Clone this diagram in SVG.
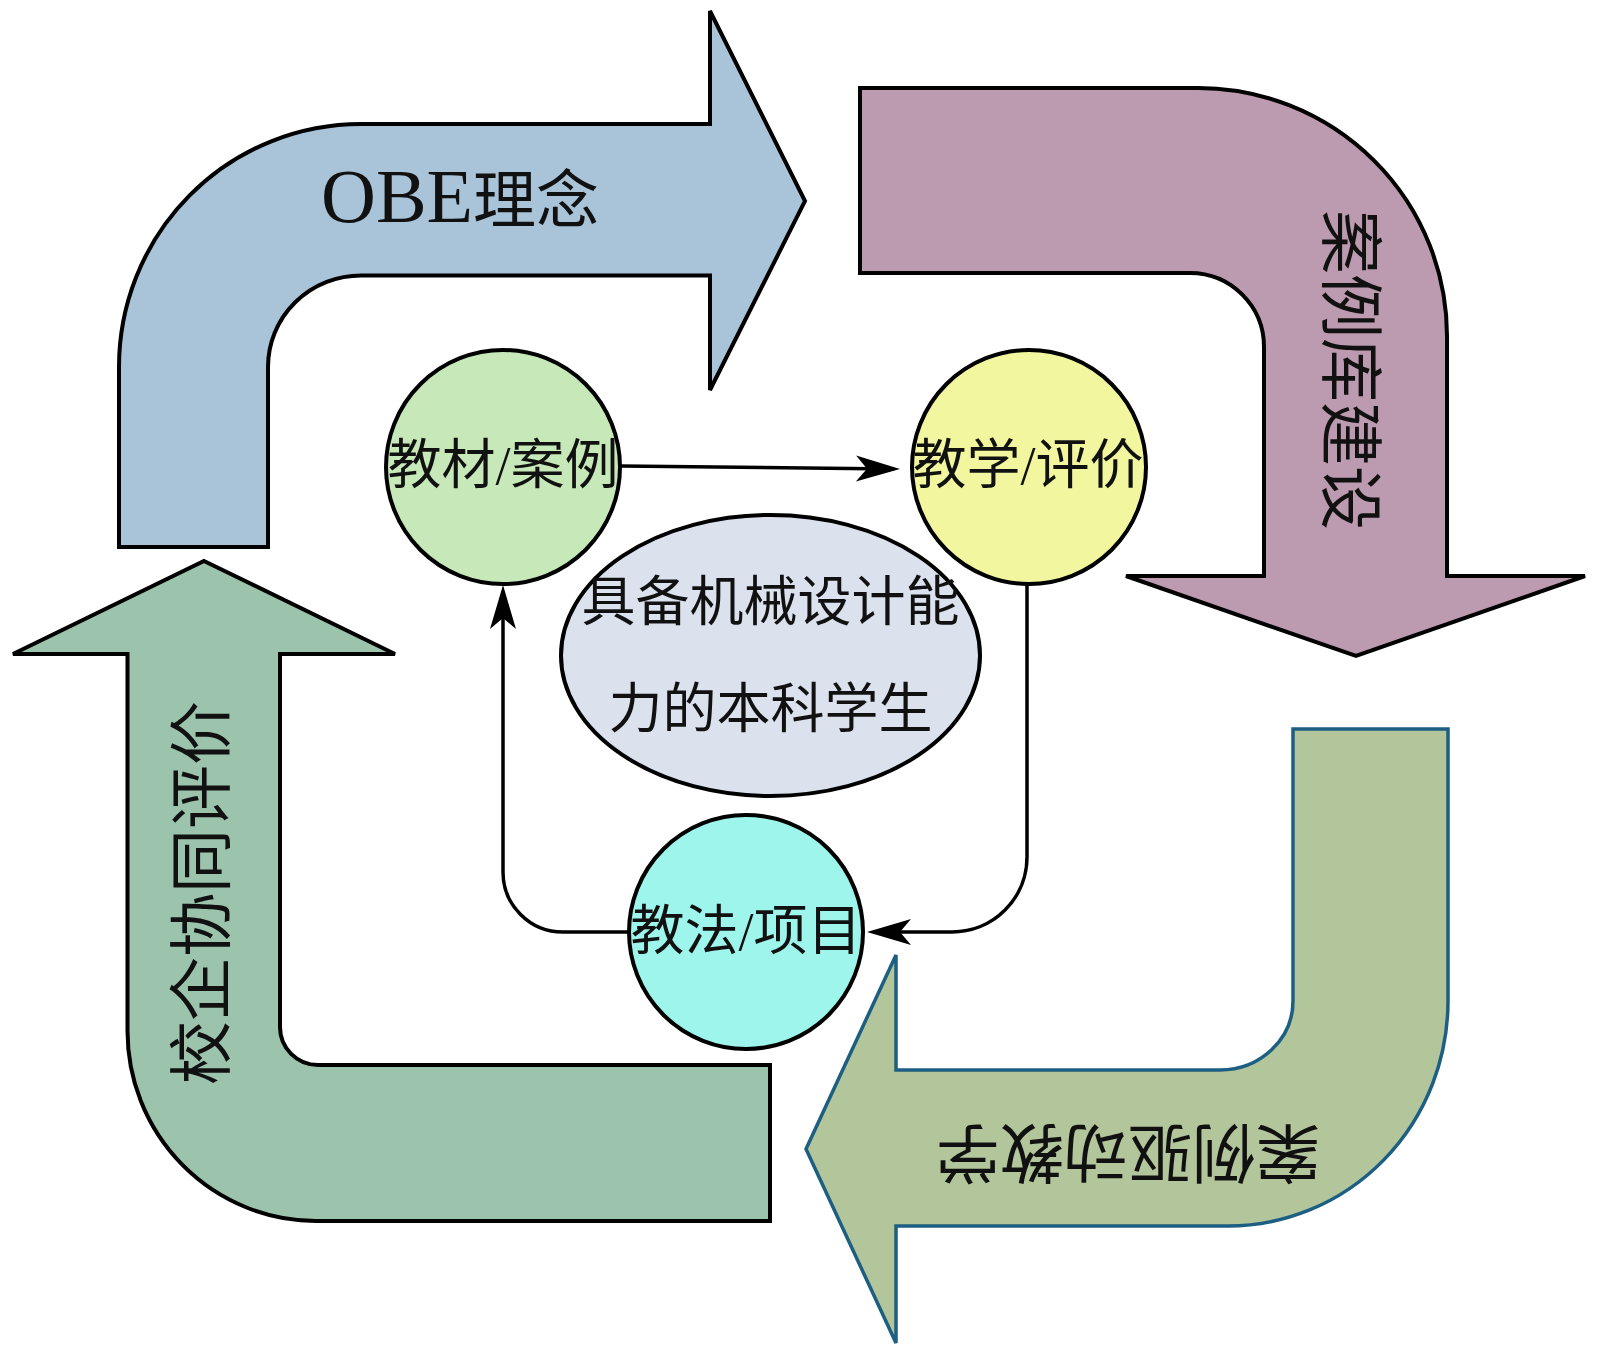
<svg xmlns="http://www.w3.org/2000/svg" width="1600" height="1355" viewBox="0 0 1600 1355">
<style>
.big{stroke:#000;stroke-width:4;stroke-linejoin:miter}
.node{stroke:#000;stroke-width:4}
.conn{fill:none;stroke:#000;stroke-width:3.5}
.t{font-family:"Liberation Serif","Noto Sans CJK SC",serif;fill:#111;text-anchor:middle}
.cjk{font-family:"Noto Sans CJK SC","Liberation Serif",sans-serif;fill:#111;text-anchor:middle}
</style>
<defs>
<marker id="ah" viewBox="-40 -15 48 30" refX="0" refY="0" markerWidth="48" markerHeight="30" markerUnits="userSpaceOnUse" orient="auto">
<path d="M6 0 L-38 -13 L-27 0 L-38 13 Z" fill="#000"/>
</marker>
</defs>
<rect width="1600" height="1355" fill="#fff"/>

<g id="arrow-obe">
<path class="big" fill="#a9c3d9" d="M119 547 L119 367 A242 243 0 0 1 361 124 L710 124 L710 11 L805 201 L710 390 L710 275.5 L361 275.5 A93 91.5 0 0 0 268 367 L268 547 Z"/>
<text class="t" x="321" y="222" style="text-anchor:start"><tspan font-size="76">OBE</tspan><tspan font-size="63" font-family="Noto Sans CJK SC, sans-serif">理念</tspan></text>
</g>

<g id="arrow-case-lib">
<path class="big" fill="#bc9bb0" d="M860 88 L1198 88 A249 248 0 0 1 1447 336 L1447 576 L1585 576 L1356 656 L1126 576 L1264 576 L1264 347 A74 74 0 0 0 1190 273 L860 273 Z"/>
<text class="cjk" font-size="64" transform="translate(1352,370) rotate(90)" x="0" y="24">案例库建设</text>
</g>

<g id="arrow-case-teach">
<path fill="#b3c69b" stroke="#1d5f82" stroke-width="3.5" d="M1294 729 L1448 729 L1448 1001 A220 225 0 0 1 1228 1226 L896 1226 L896 1343 L806 1149 L896 955 L896 1070 L1220 1070 A73 69 0 0 0 1293 1001 L1293 729 Z"/>
<text class="cjk" font-size="64" transform="translate(1128,1154) rotate(180)" x="0" y="24">案例驱动教学</text>
</g>

<g id="arrow-eval">
<path class="big" fill="#9cc4ad" d="M204 561 L395 654 L280 654 L280 1027 A38 38 0 0 0 318 1065 L770 1065 L770 1221 L316 1221 A189 190 0 0 1 127.5 1031 L127.5 654 L13 654 Z"/>
<text class="cjk" font-size="64" transform="translate(200,893) rotate(-90)" x="0" y="24">校企协同评价</text>
</g>

<g id="connectors">
<path class="conn" d="M621 466 L894 469" marker-end="url(#ah)"/>
<path class="conn" d="M1027 584 L1027 857 A75 75 0 0 1 952 932 L873 932" marker-end="url(#ah)"/>
<path class="conn" d="M629 932 L563 932 A60 60 0 0 1 503 872 L503 591" marker-end="url(#ah)"/>
</g>

<g id="node-goal">
<ellipse class="node" cx="770.5" cy="655.5" rx="209.5" ry="140.5" fill="#dbe2ee"/>
<text class="cjk" font-size="54" x="770.5" y="621">具备机械设计能</text>
<text class="cjk" font-size="54" x="770.5" y="728">力的本科学生</text>
</g>

<g id="node-material">
<circle class="node" cx="503" cy="467" r="117" fill="#c7e9b9"/>
<text class="t" font-size="54" x="503" y="484">教材/案例</text>
</g>

<g id="node-teach">
<circle class="node" cx="1029" cy="467" r="117" fill="#f2f69e"/>
<text class="t" font-size="54" x="1028" y="484">教学/评价</text>
</g>

<g id="node-method">
<circle class="node" cx="746" cy="932" r="117" fill="#9ef5ec"/>
<text class="t" font-size="54" x="746" y="950">教法/项目</text>
</g>
</svg>
